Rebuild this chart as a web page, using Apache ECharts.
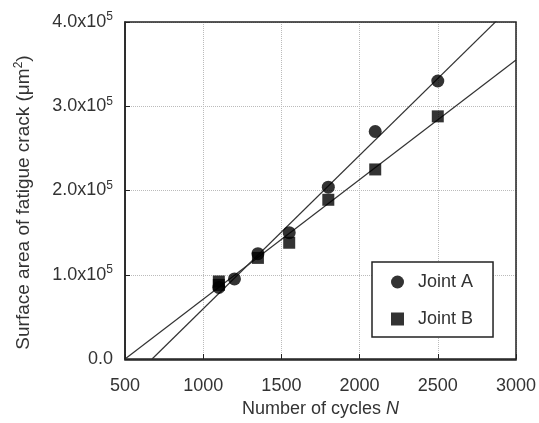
<!DOCTYPE html>
<html><head><meta charset="utf-8">
<script src="https://cdn.jsdelivr.net/npm/echarts@6/dist/echarts.min.js"></script>
<style>html,body{margin:0;padding:0;background:#fff}#c{width:539px;height:423px}</style>
</head><body><div id="c"></div>
<script>
var jointA = [[1100,85000],[1200,95000],[1350,125000],[1550,150000],[1800,204000],[2100,270000],[2500,330000]];
var jointB = [[1100,92000],[1100,88000],[1350,120000],[1550,138000],[1800,189000],[2100,225000],[2500,288000]];
var fitA = [[673,0],[3000,424000]];
var fitB = [[500,0],[3000,355000]];
var xTicks = [500,1000,1500,2000,2500,3000];
var yTicks = [0,100000,200000,300000,400000];

var F = 'Liberation Sans, Arial, sans-serif';
var TC = '#333';
var chart = echarts.init(document.getElementById('c'), null, {renderer:'canvas'});
chart.setOption({
  animation:false,
  grid:{left:125,right:23,top:22,bottom:63},
  xAxis:{type:'value',min:xTicks[0],max:xTicks[xTicks.length-1],interval:xTicks[1]-xTicks[0],
    axisLine:{show:true,onZero:false,lineStyle:{color:'#222',width:1.5}},
    axisTick:{show:true,inside:true,length:5,lineStyle:{color:'#222'}},
    splitLine:{show:true,lineStyle:{color:'#bbb',type:'dotted',width:1}},
    axisLabel:{color:TC,fontFamily:F,fontSize:18,margin:18,formatter:function(v){return String(v);}},
    name:'Number of cycles {i|N}',nameLocation:'middle',nameGap:41,
    nameTextStyle:{color:TC,fontFamily:F,fontSize:18,verticalAlign:'top',rich:{i:{fontStyle:'italic',fontFamily:F,fontSize:18,color:TC}}}
  },
  yAxis:{type:'value',min:yTicks[0],max:yTicks[yTicks.length-1],interval:yTicks[1]-yTicks[0],
    axisLine:{show:true,lineStyle:{color:'#222',width:1.5}},
    axisTick:{show:true,inside:true,length:5,lineStyle:{color:'#222'}},
    splitLine:{show:true,lineStyle:{color:'#bbb',type:'dotted',width:1}},
    axisLabel:{color:TC,fontFamily:F,fontSize:18,margin:12,
      formatter:function(v){ if(v===0) return '0.0'; return (v/100000).toFixed(1)+'x10{s|5}'; },
      rich:{s:{fontSize:12,verticalAlign:'top',padding:[0,0,10,0],fontFamily:F,color:TC}}
    },
    name:'Surface area of fatigue crack (μm{s|2})',nameLocation:'middle',nameGap:90,
    nameTextStyle:{color:TC,fontFamily:F,fontSize:19,padding:[0,24,0,0],rich:{s:{fontSize:12,padding:[0,0,10,0],fontFamily:F,color:TC}}}
  },
  legend:{data:['Joint A','Joint B'],orient:'vertical',left:372,top:262,
    padding:[11,20,9,19],itemGap:19,itemWidth:13,itemHeight:13,
    borderColor:'#222',borderWidth:1.5,backgroundColor:'#fff',
    textStyle:{fontFamily:F,fontSize:18,color:TC,padding:[0,0,0,9]}},
  series:[
    {name:'fitA',type:'line',data:fitA,symbol:'none',clip:true,silent:true,lineStyle:{color:'#333',width:1.2},z:1},
    {name:'fitB',type:'line',data:fitB,symbol:'none',clip:true,silent:true,lineStyle:{color:'#333',width:1.2},z:1},
    {name:'Joint A',type:'scatter',data:jointA,symbol:'circle',symbolSize:13,itemStyle:{color:'#000'},z:3},
    {name:'Joint B',type:'scatter',data:jointB,symbol:'rect',symbolSize:12,itemStyle:{color:'#000'},z:3}
  ],
  graphic:[{type:'rect',shape:{x:125,y:22,width:391,height:338},style:{fill:'none',stroke:'#222',lineWidth:1.5},silent:true,z:10}]
});
</script></body></html>
